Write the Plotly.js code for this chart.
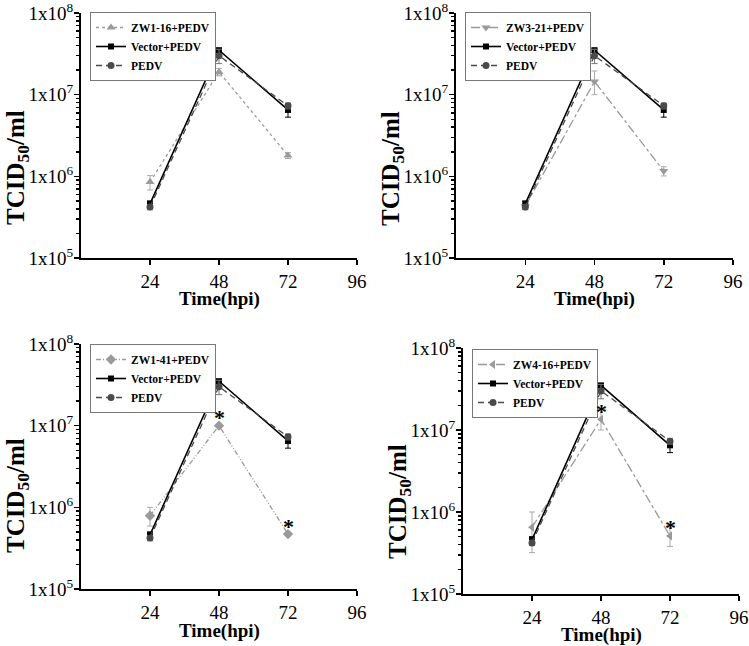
<!DOCTYPE html>
<html><head><meta charset="utf-8">
<script src="https://cdn.plot.ly/plotly-3.0.1.min.js"></script>
<style>body{margin:0;background:#fff}#chart{width:749px;height:646px}</style>
</head><body><div id="chart"></div>
<script>
// ---- data ----
const hours = [24, 48, 72];
const xTicks = [24, 48, 72, 96];
const yTickVals = [1e5, 1e6, 1e7, 1e8];
const yTickText = ['1x10<sup>5</sup>', '1x10<sup>6</sup>', '1x10<sup>7</sup>', '1x10<sup>8</sup>'];
const xTitle = 'Time(hpi)';
const yTitle = 'TCID<sub>50</sub>/ml';

const vectorName = 'Vector+PEDV';
const vectorVals = [4.6e5, 3.5e7, 6.5e6];
const vectorErr = [0.4e5, 0.2e7, 1.2e6];

const pedvName = 'PEDV';
const pedvVals = [4.2e5, 3.0e7, 7.3e6];
const pedvErr = [0.3e5, 0.6e7, 0.6e6];

const zwNames = ['ZW1-16+PEDV', 'ZW3-21+PEDV', 'ZW1-41+PEDV', 'ZW4-16+PEDV'];
const zw1_16 = [8.5e5, 1.9e7, 1.8e6];
const zw1_16ErrUp = [1.7e5, 0.2e7, 0.15e6];
const zw1_16ErrDn = [1.7e5, 0.2e7, 0.15e6];
const zw3_21 = [4.3e5, 1.45e7, 1.16e6];
const zw3_21ErrUp = [0.3e5, 0.5e7, 0.15e6];
const zw3_21ErrDn = [0.3e5, 0.45e7, 0.15e6];
const zw1_41 = [7.9e5, 1.0e7, 4.7e5];
const zw1_41ErrUp = [2.1e5, 0.05e7, 0.2e5];
const zw1_41ErrDn = [2.0e5, 0.05e7, 0.2e5];
const zw4_16 = [6.5e5, 1.35e7, 5.1e5];
const zw4_16ErrUp = [3.5e5, 0.5e7, 1.5e5];
const zw4_16ErrDn = [3.3e5, 0.35e7, 1.3e5];

// significance marks: panel index and hour
const starPanels = [2, 2, 3, 3];
const starHours = [48, 72, 48, 72];

// ---- styles ----
const zwSeries = [zw1_16, zw3_21, zw1_41, zw4_16];
const zwUp = [zw1_16ErrUp, zw3_21ErrUp, zw1_41ErrUp, zw4_16ErrUp];
const zwDn = [zw1_16ErrDn, zw3_21ErrDn, zw1_41ErrDn, zw4_16ErrDn];
const zwSymbols = ['triangle-up', 'triangle-down', 'diamond', 'triangle-left'];
const zwDash = ['dot', 'dashdot', '5px,2px,1px,2px,1px,2px', 'dashdot'];
const zwColor = '#9a9a9a';
const pedvColor = '#4a4a4a';

// minor tick positions (2..9 within each decade)
const minorVals = [];
for (let e = 5; e < 8; e++) for (let d = 2; d <= 9; d++) minorVals.push(d * Math.pow(10, e));

const doms = [
  {x: [81/749, 357/749], y: [1-258/646, 1-13/646]},
  {x: [456/749, 733/749], y: [1-258/646, 1-13/646]},
  {x: [81/749, 357/749], y: [1-589/646, 1-344/646]},
  {x: [463/749, 739/749], y: [1-594/646, 1-348/646]}
];
const legPos = [
  {x: 90/749, y: 1-12/646},
  {x: 465/749, y: 1-12/646},
  {x: 90/749, y: 1-344/646},
  {x: 472/749, y: 1-349/646}
];
const yTitlePos = [
  {x: 17/749, y: 1-168/646},
  {x: 392/749, y: 1-168/646},
  {x: 17/749, y: 1-496/646},
  {x: 399/749, y: 1-501/646}
];
const xTitleY = [1-299/646, 1-299/646, 1-631/646, 1-635/646];

const serif = 'Liberation Serif, Times New Roman, serif';
const traces = [];
const layout = {
  width: 749, height: 646,
  margin: {l: 0, r: 0, t: 0, b: 0},
  paper_bgcolor: '#fff', plot_bgcolor: '#fff',
  font: {family: serif, color: '#000'},
  annotations: []
};

for (let i = 0; i < 4; i++) {
  const s = i === 0 ? '' : String(i + 1);
  const xa = 'x' + s, ya = 'y' + s;
  const yMinor = 'y' + (i + 5);
  const leg = 'legend' + s;
  traces.push({
    x: hours, y: zwSeries[i], name: zwNames[i], type: 'scatter', mode: 'lines+markers',
    xaxis: xa, yaxis: ya, legend: leg,
    line: {color: zwColor, width: 1.3, dash: zwDash[i]},
    marker: {symbol: zwSymbols[i], size: 8, color: zwColor},
    error_y: {type: 'data', array: zwUp[i], arrayminus: zwDn[i], color: '#aaa', thickness: 1, width: 3}
  });
  traces.push({
    x: hours, y: vectorVals, name: vectorName, type: 'scatter', mode: 'lines+markers',
    xaxis: xa, yaxis: ya, legend: leg,
    line: {color: '#000', width: 1.6},
    marker: {symbol: 'square', size: 6, color: '#000'},
    error_y: {type: 'data', array: vectorErr, color: '#000', thickness: 1, width: 3}
  });
  traces.push({
    x: hours, y: pedvVals, name: pedvName, type: 'scatter', mode: 'lines+markers',
    xaxis: xa, yaxis: ya, legend: leg,
    line: {color: pedvColor, width: 1.3, dash: '6px,4px'},
    marker: {symbol: 'circle', size: 7, color: pedvColor},
    error_y: {type: 'data', array: pedvErr, color: '#777', thickness: 1, width: 3}
  });
  // empty trace so the minor-tick overlay axis is created
  traces.push({x: [], y: [], type: 'scatter', mode: 'markers', xaxis: xa, yaxis: yMinor,
    showlegend: false, hoverinfo: 'skip'});

  layout['xaxis' + s] = {
    domain: doms[i].x, anchor: ya, range: [0, 96],
    tickmode: 'array', tickvals: xTicks,
    ticks: 'outside', ticklen: 5, tickwidth: 1.5, tickcolor: '#000',
    showline: true, linecolor: '#000', linewidth: 2, showgrid: false, zeroline: false,
    tickfont: {family: serif, size: 19, color: '#000'}
  };
  layout['yaxis' + s] = {
    domain: doms[i].y, anchor: xa, type: 'log', range: [5, 8],
    tickmode: 'array', tickvals: yTickVals, ticktext: yTickText,
    ticks: 'outside', ticklen: 5, tickwidth: 1.5, tickcolor: '#000',
    ticklabelstandoff: -3, ticklabeloverflow: 'allow',
    showline: true, linecolor: '#000', linewidth: 2, showgrid: false, zeroline: false,
    tickfont: {family: serif, size: 19, color: '#000'}
  };
  layout['yaxis' + (i + 5)] = {
    overlaying: ya, anchor: xa, side: 'left', type: 'log', range: [5, 8],
    tickmode: 'array', tickvals: minorVals, showticklabels: false,
    ticks: 'outside', ticklen: 4, tickwidth: 1.5, tickcolor: '#000',
    showline: false, showgrid: false, zeroline: false
  };
  layout[leg] = {
    x: legPos[i].x, y: legPos[i].y, xanchor: 'left', yanchor: 'top',
    bgcolor: '#fff', bordercolor: '#777', borderwidth: 1,
    font: {family: serif, size: 11.5, weight: 'bold', color: '#000'},
    itemwidth: 30, tracegroupgap: 0
  };
  layout.annotations.push({
    xref: 'paper', yref: 'paper', x: yTitlePos[i].x, y: yTitlePos[i].y,
    xanchor: 'center', yanchor: 'middle', textangle: -90, showarrow: false,
    text: yTitle, font: {family: serif, size: 25, weight: 'bold', color: '#000'}
  });
  layout.annotations.push({
    xref: 'paper', yref: 'paper', x: (doms[i].x[0] + doms[i].x[1]) / 2, y: xTitleY[i],
    xanchor: 'center', yanchor: 'middle', showarrow: false, borderpad: 0,
    text: xTitle, font: {family: serif, size: 19, weight: 'bold', color: '#000'}
  });
}

for (let k = 0; k < starPanels.length; k++) {
  const p = starPanels[k];
  const s = p === 0 ? '' : String(p + 1);
  const idx = hours.indexOf(starHours[k]);
  layout.annotations.push({
    xref: 'x' + s, yref: 'y' + s, x: starHours[k], y: Math.log10(zwSeries[p][idx]),
    text: '*', showarrow: false, yanchor: 'middle', yshift: 8,
    font: {family: serif, size: 22, weight: 'bold', color: '#000'}
  });
}

Plotly.newPlot('chart', traces, layout, {displayModeBar: false, staticPlot: true});
</script></body></html>
